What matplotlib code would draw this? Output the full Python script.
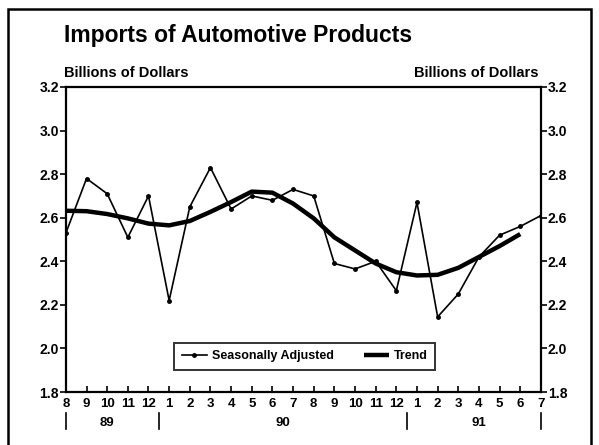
import matplotlib
matplotlib.use("Agg")
import matplotlib.pyplot as plt
import matplotlib.transforms as mtransforms
from matplotlib.patches import Rectangle

plt.rcParams['font.family'] = ['Liberation Sans', 'DejaVu Sans']
plt.rcParams['font.weight'] = 'bold'

# monthly data, Aug 1989 - Jul 1991
months = ['8', '9', '10', '11', '12', '1', '2', '3', '4', '5', '6', '7',
          '8', '9', '10', '11', '12', '1', '2', '3', '4', '5', '6', '7']
years = ['89', '90', '91']
seas_adj = [2.53, 2.78, 2.71, 2.51, 2.70, 2.22, 2.65, 2.83, 2.64, 2.70, 2.68, 2.73,
            2.70, 2.39, 2.365, 2.40, 2.265, 2.67, 2.145, 2.25, 2.42, 2.52, 2.56, 2.61]
trend = [2.632, 2.63, 2.617, 2.597, 2.573, 2.565, 2.585, 2.627, 2.672, 2.72, 2.715, 2.665,
         2.597, 2.51, 2.45, 2.39, 2.35, 2.335, 2.338, 2.37, 2.42, 2.47, 2.525]

fig = plt.figure(figsize=(5.99, 4.45), dpi=100)
ax = fig.add_axes([0.110, 0.119, 0.793, 0.6855])

x = list(range(len(seas_adj)))
ax.plot(x, seas_adj, color='black', lw=1.2, marker='o', ms=2.5,
        label='Seasonally Adjusted')
ax.plot(list(range(len(trend))), trend, color='black', lw=3.2,
        solid_capstyle='butt', label='Trend')

ax.set_xlim(0, 23)
ax.set_ylim(1.8, 3.2)
ax.set_xticks(x)
ax.set_xticklabels(months, fontsize=9.5, fontweight='bold')
ax.tick_params(axis='x', direction='in', length=4, width=1.2, pad=4)
yt = [1.8, 2.0, 2.2, 2.4, 2.6, 2.8, 3.0, 3.2]
ax.set_yticks(yt)
ax.set_yticklabels(['%.1f' % v for v in yt], fontsize=10, fontweight='bold')
ax.tick_params(axis='y', direction='out', length=4, width=1.2, pad=1,
               left=True, right=True, labelleft=True, labelright=True)
for s in ax.spines.values():
    s.set_linewidth(1.6)

# year labels and separators under the month labels
trans = mtransforms.blended_transform_factory(ax.transData, ax.transAxes)
for xs in [0, 4.5, 16.5, 23]:
    ax.plot([xs, xs], [-0.068, -0.12], color='black', lw=1.2,
            transform=trans, clip_on=False)
for xp, yr in zip([2, 10.5, 20], years):
    ax.text(xp, -0.102, yr, transform=trans, ha='center', va='center',
            fontsize=9.5, fontweight='bold')

leg = ax.legend(loc='lower center', bbox_to_anchor=(0.503, 0.052), ncol=2,
                frameon=True, fancybox=False, edgecolor='black',
                prop={'size': 9, 'weight': 'bold'}, handlelength=2.0,
                handletextpad=0.4, columnspacing=2.4, borderpad=0.6)
leg.get_frame().set_linewidth(1.4)

fig.text(0.107, 0.92, 'Imports of Automotive Products', fontsize=16.5,
         fontweight='bold', va='center')
fig.text(0.107, 0.835, 'Billions of Dollars', fontsize=10.5,
         fontweight='bold', va='center')
fig.text(0.899, 0.835, 'Billions of Dollars', fontsize=10.5,
         fontweight='bold', va='center', ha='right')

fig.patches.append(Rectangle((0.0134, -0.05), 0.973, 1.03, transform=fig.transFigure,
                             fill=False, edgecolor='black', lw=1.8))

fig.savefig('out.png', dpi=100)
